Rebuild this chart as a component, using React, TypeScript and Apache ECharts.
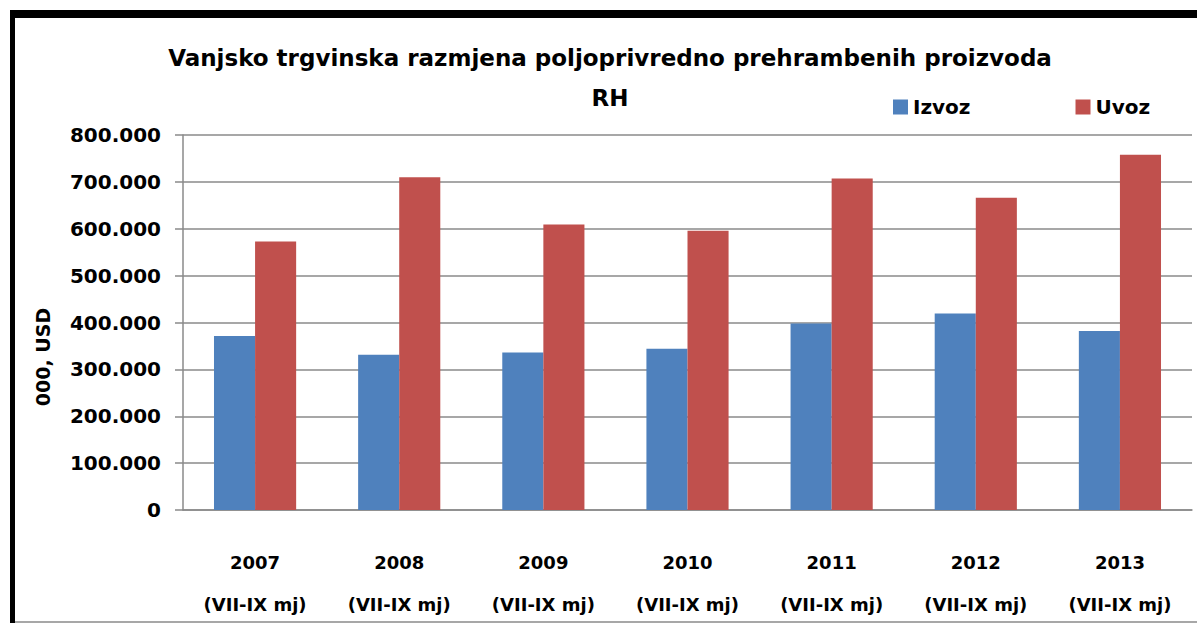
import { useEffect, useRef } from "react";
import * as echarts from "echarts";

const categories = [
  "2007\n(VII-IX mj)",
  "2008\n(VII-IX mj)",
  "2009\n(VII-IX mj)",
  "2010\n(VII-IX mj)",
  "2011\n(VII-IX mj)",
  "2012\n(VII-IX mj)",
  "2013\n(VII-IX mj)",
];
const izvoz = [371000, 331000, 336000, 344000, 398000, 419000, 382000];
const uvoz = [573000, 710000, 609000, 596000, 707000, 666000, 758000];
const seriesNames = ["Izvoz", "Uvoz"];
const titleLines = ["Vanjsko trgvinska razmjena poljoprivredno prehrambenih proizvoda", "RH"];
const yAxisName = "000, USD";

const FONT = "'DejaVu Sans', sans-serif";

function fmt(v: number): string {
  if (v === 0) return "0";
  return String(v).replace(/\B(?=(\d{3})+(?!\d))/g, ".");
}

export default function App() {
  const ref = useRef<HTMLDivElement>(null);
  useEffect(() => {
    if (!ref.current) return;
    const chart = echarts.init(ref.current, undefined, { renderer: "svg" });
    chart.setOption({
      animation: false,
      backgroundColor: "#ffffff",
      textStyle: { fontFamily: FONT },
      title: {
        text: titleLines.join("\n"),
        left: 605,
        top: 33,
        textAlign: "center",
        textStyle: {
          fontFamily: FONT,
          fontSize: 23,
          fontWeight: "bold",
          color: "#000",
          lineHeight: 40,
        },
      },
      legend: {
        data: seriesNames,
        left: 888,
        top: 92,
        itemWidth: 15,
        itemHeight: 15,
        itemGap: 105,
        icon: "rect",
        textStyle: { fontFamily: FONT, fontSize: 20, fontWeight: "bold", color: "#000" },
      },
      grid: { left: 183, right: 5, top: 135, bottom: 108, containLabel: false },
      xAxis: {
        type: "category",
        data: categories,
        axisLine: { lineStyle: { color: "#8a8a8a", width: 1.5 } },
        axisTick: { show: false },
        axisLabel: {
          margin: 31,
          fontFamily: FONT,
          fontSize: 18,
          fontWeight: "bold",
          color: "#000",
          lineHeight: 42,
          interval: 0,
        },
      },
      yAxis: {
        type: "value",
        min: 0,
        max: 800000,
        interval: 100000,
        axisLine: { show: true, lineStyle: { color: "#8a8a8a", width: 1.5 } },
        axisTick: { show: true, length: 8, lineStyle: { color: "#8a8a8a", width: 1.5 } },
        splitLine: { lineStyle: { color: "#8a8a8a", width: 1.5 } },
        axisLabel: {
          margin: 22,
          fontFamily: FONT,
          fontSize: 20,
          fontWeight: "bold",
          color: "#000",
          formatter: (v: number) => fmt(v),
        },
      },
      series: [
        {
          name: seriesNames[0],
          type: "bar",
          data: izvoz,
          barGap: "0%",
          barCategoryGap: "43%",
          itemStyle: { color: "#4F81BD" },
        },
        {
          name: seriesNames[1],
          type: "bar",
          data: uvoz,
          barGap: "0%",
          barCategoryGap: "43%",
          itemStyle: { color: "#C0504D" },
        },
      ],
      graphic: [
        {
          type: "text",
          x: 43,
          y: 357,
          rotation: Math.PI / 2,
          style: {
            text: yAxisName,
            textAlign: "center",
            textVerticalAlign: "middle",
            font: `bold 19px ${FONT}`,
            fill: "#000",
          },
        },
        {
          type: "line",
          shape: { x1: 12.5, y1: 10, x2: 12.5, y2: 623 },
          style: { stroke: "#000", lineWidth: 5 },
        },
        {
          type: "line",
          shape: { x1: 10, y1: 14, x2: 1197, y2: 14 },
          style: { stroke: "#000", lineWidth: 8 },
        },
        {
          type: "line",
          shape: { x1: 15, y1: 622, x2: 1197, y2: 622 },
          style: { stroke: "#8a8a8a", lineWidth: 1.5 },
        },
      ],
    });
    return () => chart.dispose();
  }, []);
  return (
    <div
      ref={ref}
      style={{ position: "absolute", left: 0, top: 0, width: 1197, height: 625 }}
    />
  );
}
